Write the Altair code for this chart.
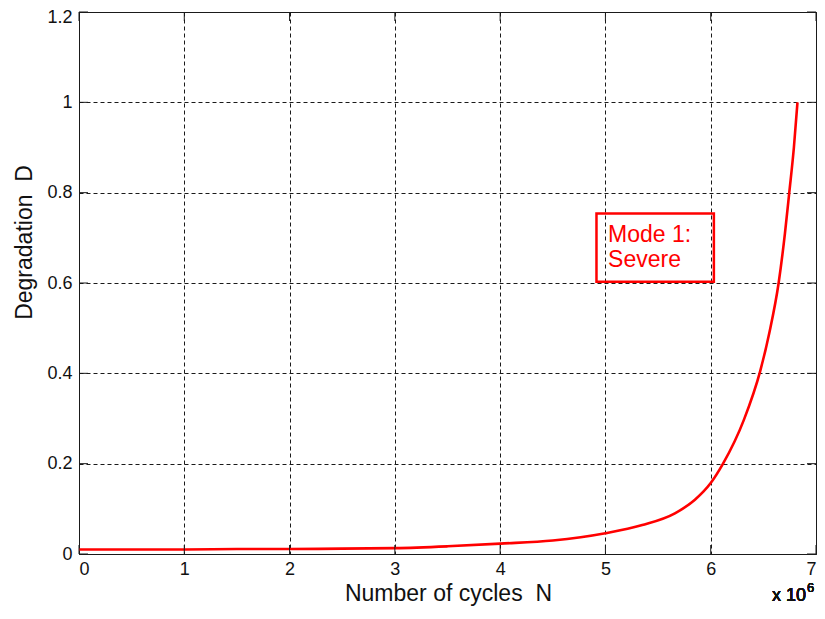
import altair as alt
import pandas as pd

# Curve (N in units of 1e6 cycles)
cycles = [0, 0.5, 1, 1.5, 2, 2.5, 3, 3.5, 4, 4.5, 5, 5.35, 5.66, 5.85, 6.0, 6.117,
          6.315, 6.47, 6.557, 6.645, 6.705, 6.746, 6.79, 6.824]
degradation = [0.010, 0.010, 0.010, 0.011, 0.011, 0.012, 0.013, 0.017, 0.023, 0.030,
               0.046, 0.064, 0.090, 0.120, 0.157, 0.200, 0.297, 0.405, 0.490, 0.600,
               0.710, 0.800, 0.900, 1.000]

x_ticks = [0, 1, 2, 3, 4, 5, 6, 7]
y_ticks = [0, 0.2, 0.4, 0.6, 0.8, 1, 1.2]

box_text = ["Mode 1:", "Severe"]

FONT = "Liberation Sans"
W, H = 737, 542

curve_df = pd.DataFrame({"N": cycles, "D": degradation})
xt_df = pd.DataFrame({"v": x_ticks})
yt_df = pd.DataFrame({"v": y_ticks})

xscale = alt.Scale(domain=[0, 7], nice=False, zero=False)
yscale = alt.Scale(domain=[0, 1.2], nice=False, zero=False)

x_axis = alt.Axis(values=x_ticks, format="d", title="Number of cycles \u00a0N",
                  grid=True, ticks=False, domain=False, labelPadding=6,
                  titleY=46, titleX=369, titleBaseline="alphabetic")
y_axis = alt.Axis(values=y_ticks, format="~g", title="Degradation \u00a0D",
                  grid=True, ticks=False, domain=False, labelPadding=7,
                  labelOffset={"condition": {"test": "datum.value == 1.2", "value": 5},
                               "value": 0},
                  titleX=-48, titleY=230, titleBaseline="alphabetic")

curve = alt.Chart(curve_df).mark_line(color="#ff0000", strokeWidth=2.6,
                                      interpolate="monotone").encode(
    x=alt.X("N:Q", scale=xscale, axis=x_axis),
    y=alt.Y("D:Q", scale=yscale, axis=y_axis),
)

tick_style = dict(color="#1a1a1a", strokeWidth=1)
bottom_ticks = alt.Chart(xt_df).mark_rule(**tick_style).encode(
    x=alt.X("v:Q", scale=xscale), y=alt.value(H), y2=alt.value(H - 9))
top_ticks = alt.Chart(xt_df).mark_rule(**tick_style).encode(
    x=alt.X("v:Q", scale=xscale), y=alt.value(0), y2=alt.value(9))
left_ticks = alt.Chart(yt_df).mark_rule(**tick_style).encode(
    y=alt.Y("v:Q", scale=yscale), x=alt.value(0), x2=alt.value(9))
right_ticks = alt.Chart(yt_df).mark_rule(**tick_style).encode(
    y=alt.Y("v:Q", scale=yscale), x=alt.value(W), x2=alt.value(W - 9))

box_df = pd.DataFrame({"x1": [4.915], "x2": [6.03], "y1": [0.754], "y2": [0.603]})
box = alt.Chart(box_df).mark_rect(fill="white", fillOpacity=0, stroke="#ff0000",
                                  strokeWidth=2.5).encode(
    x=alt.X("x1:Q", scale=xscale), x2="x2:Q",
    y=alt.Y("y1:Q", scale=yscale), y2="y2:Q")

txt_df = pd.DataFrame({"t": box_text, "x": [5.025, 5.025], "y": [0.691, 0.635]})
box_txt = alt.Chart(txt_df).mark_text(align="left", baseline="alphabetic",
                                      color="#ff0000", font=FONT, fontSize=23).encode(
    x=alt.X("x:Q", scale=xscale), y=alt.Y("y:Q", scale=yscale), text="t:N")

exp_base = alt.Chart(xt_df).mark_text(align="left", baseline="alphabetic",
                                      font=FONT, fontSize=18, color="#111").encode(
    x=alt.value(693), y=alt.value(H + 47), text=alt.value("x 10"))
exp_sup = alt.Chart(xt_df).mark_text(align="left", baseline="alphabetic",
                                     font=FONT, fontSize=13, color="#111").encode(
    x=alt.value(728), y=alt.value(H + 38), text=alt.value("6"))

chart = alt.layer(curve, bottom_ticks, top_ticks, left_ticks, right_ticks,
                  box, box_txt, exp_base, exp_sup).properties(
    width=W, height=H,
    autosize=alt.AutoSizeParams(type="none"),
    padding={"left": 71, "top": 4, "right": 1, "bottom": 52},
    background="white",
).configure_view(
    stroke="#1a1a1a", strokeWidth=1
).configure_axis(
    gridColor="#1a1a1a", gridDash=[4, 3], gridOpacity=1, gridWidth=1,
    labelFont=FONT, labelFontSize=18, labelColor="#111",
    titleFont=FONT, titleFontSize=23, titleFontWeight="normal", titleColor="#111",
)

chart.save("out.html", embed_options={"renderer": "svg", "actions": False})
